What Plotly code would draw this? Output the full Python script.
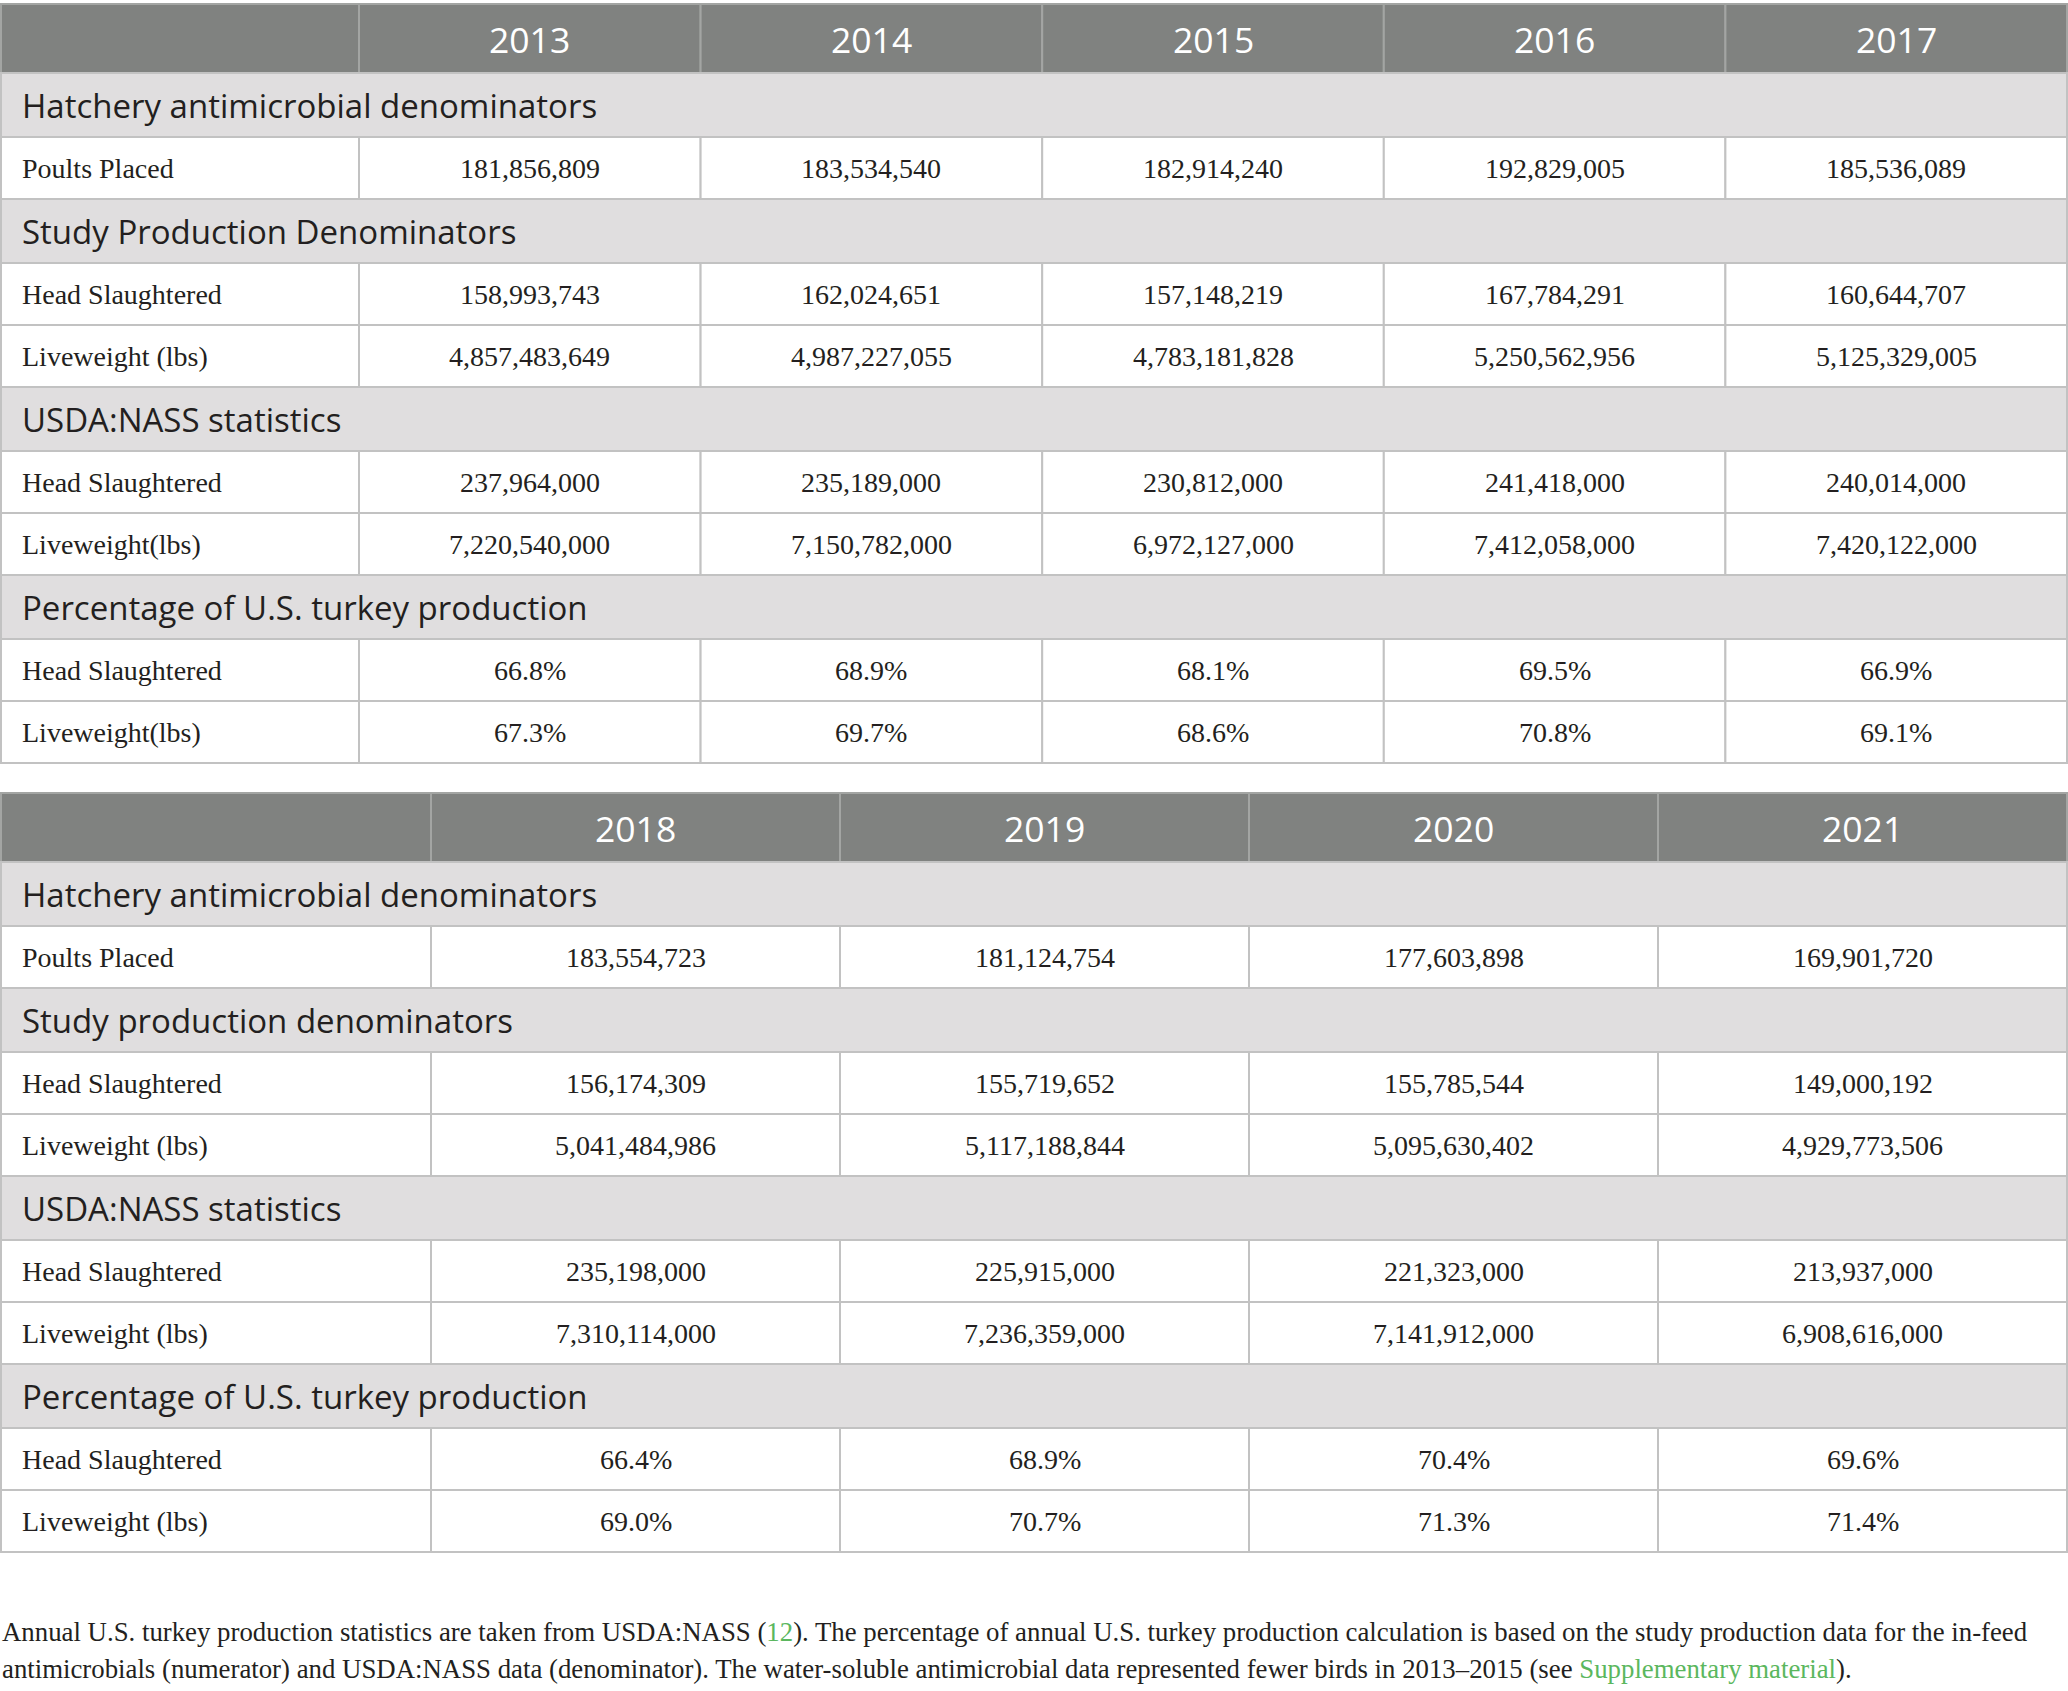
import plotly.graph_objects as go

# table data
years_a = ["2013", "2014", "2015", "2016", "2017"]
years_b = ["2018", "2019", "2020", "2021"]

sections_a = ["Hatchery antimicrobial denominators", "Study Production Denominators",
              "USDA:NASS statistics", "Percentage of U.S. turkey production"]
sections_b = ["Hatchery antimicrobial denominators", "Study production denominators",
              "USDA:NASS statistics", "Percentage of U.S. turkey production"]

labels_a = [["Poults Placed"], ["Head Slaughtered", "Liveweight (lbs)"],
            ["Head Slaughtered", "Liveweight(lbs)"], ["Head Slaughtered", "Liveweight(lbs)"]]
labels_b = [["Poults Placed"], ["Head Slaughtered", "Liveweight (lbs)"],
            ["Head Slaughtered", "Liveweight (lbs)"], ["Head Slaughtered", "Liveweight (lbs)"]]

poults_a = [181856809, 183534540, 182914240, 192829005, 185536089]
study_head_a = [158993743, 162024651, 157148219, 167784291, 160644707]
study_lw_a = [4857483649, 4987227055, 4783181828, 5250562956, 5125329005]
nass_head_a = [237964000, 235189000, 230812000, 241418000, 240014000]
nass_lw_a = [7220540000, 7150782000, 6972127000, 7412058000, 7420122000]
pct_head_a = [66.8, 68.9, 68.1, 69.5, 66.9]
pct_lw_a = [67.3, 69.7, 68.6, 70.8, 69.1]

poults_b = [183554723, 181124754, 177603898, 169901720]
study_head_b = [156174309, 155719652, 155785544, 149000192]
study_lw_b = [5041484986, 5117188844, 5095630402, 4929773506]
nass_head_b = [235198000, 225915000, 221323000, 213937000]
nass_lw_b = [7310114000, 7236359000, 7141912000, 6908616000]
pct_head_b = [66.4, 68.9, 70.4, 69.6]
pct_lw_b = [69.0, 70.7, 71.3, 71.4]

values_a = [[poults_a], [study_head_a, study_lw_a], [nass_head_a, nass_lw_a], [pct_head_a, pct_lw_a]]
values_b = [[poults_b], [study_head_b, study_lw_b], [nass_head_b, nass_lw_b], [pct_head_b, pct_lw_b]]

caption_1 = ("Annual U.S. turkey production statistics are taken from USDA:NASS "
             "(<span style='color:#5bb75e'>12</span>). The percentage of annual U.S. turkey "
             "production calculation is based on the study production data for the in-feed")
caption_2 = ("antimicrobials (numerator) and USDA:NASS data (denominator). The water-soluble "
             "antimicrobial data represented fewer birds in 2013\u20132015 (see "
             "<span style='color:#5bb75e'>Supplementary material</span>).")

# layout
W, H = 2068, 1691
X_LEFT, X_RIGHT = 1, 2067
HEAD_H, SEC_H, ROW_H = 69, 64, 62
HEAD_FILL = "#808280"
SEC_FILL = "#e0dedf"
GRID = "#c2c2c2"
INK = "#231f20"
SANS = "Open Sans"
SERIF = "Liberation Serif"

shapes = []
annotations = []


def rect(x0, x1, y0, y1, fill, line_col=GRID):
    shapes.append(dict(type="rect", xref="x", yref="y", x0=x0, x1=x1, y0=y0, y1=y1,
                       fillcolor=fill, line=dict(color=line_col, width=2), layer="below"))


def text(x, y, s, font, size, color, anchor):
    annotations.append(dict(x=x, y=y, xref="x", yref="y", text=s, showarrow=False,
                            xanchor=anchor, yanchor="middle", borderpad=0,
                            font=dict(family=font, size=size, color=color)))


def draw_table(top, first_w, years, sections, labels, values):
    n = len(years)
    col_w = (X_RIGHT - X_LEFT - first_w) / n
    edges = [X_LEFT, X_LEFT + first_w] + [X_LEFT + first_w + col_w * (i + 1) for i in range(n)]
    y = top
    # header
    for i in range(n + 1):
        rect(edges[i], edges[i + 1], y, y + HEAD_H, HEAD_FILL, "#a3a5a3")
    for i, yr in enumerate(years):
        text((edges[i + 1] + edges[i + 2]) / 2, y + HEAD_H / 2, yr, SANS, 35.5, "white", "center")
    y += HEAD_H
    for s, sec in enumerate(sections):
        rect(edges[0], edges[-1], y, y + SEC_H, SEC_FILL)
        text(edges[0] + 20, y + SEC_H / 2, sec, SANS, 33, INK, "left")
        y += SEC_H
        for lab, vals in zip(labels[s], values[s]):
            for i in range(n + 1):
                rect(edges[i], edges[i + 1], y, y + ROW_H, "white")
            text(edges[0] + 20, y + ROW_H / 2, lab, SERIF, 28, INK, "left")
            for i, v in enumerate(vals):
                s_val = f"{v:.1f}%" if s == 3 else f"{v:,}"
                text((edges[i + 1] + edges[i + 2]) / 2, y + ROW_H / 2, s_val, SERIF, 28, INK, "center")
            y += ROW_H
    return y


draw_table(4, 358, years_a, sections_a, labels_a, values_a)
draw_table(793, 430, years_b, sections_b, labels_b, values_b)

text(1, 1632, caption_1, SERIF, 26.8, INK, "left")
text(1, 1669, caption_2, SERIF, 26.8, INK, "left")

fig = go.Figure()
fig.update_layout(
    width=W, height=H,
    margin=dict(l=0, r=0, t=0, b=0),
    paper_bgcolor="white", plot_bgcolor="white",
    showlegend=False,
    shapes=shapes, annotations=annotations,
)
fig.update_xaxes(range=[0, W], visible=False, fixedrange=True)
fig.update_yaxes(range=[H, 0], visible=False, fixedrange=True)

fig.write_html("out.html", config={"displayModeBar": False},
               post_script="document.body.style.margin='0';")
